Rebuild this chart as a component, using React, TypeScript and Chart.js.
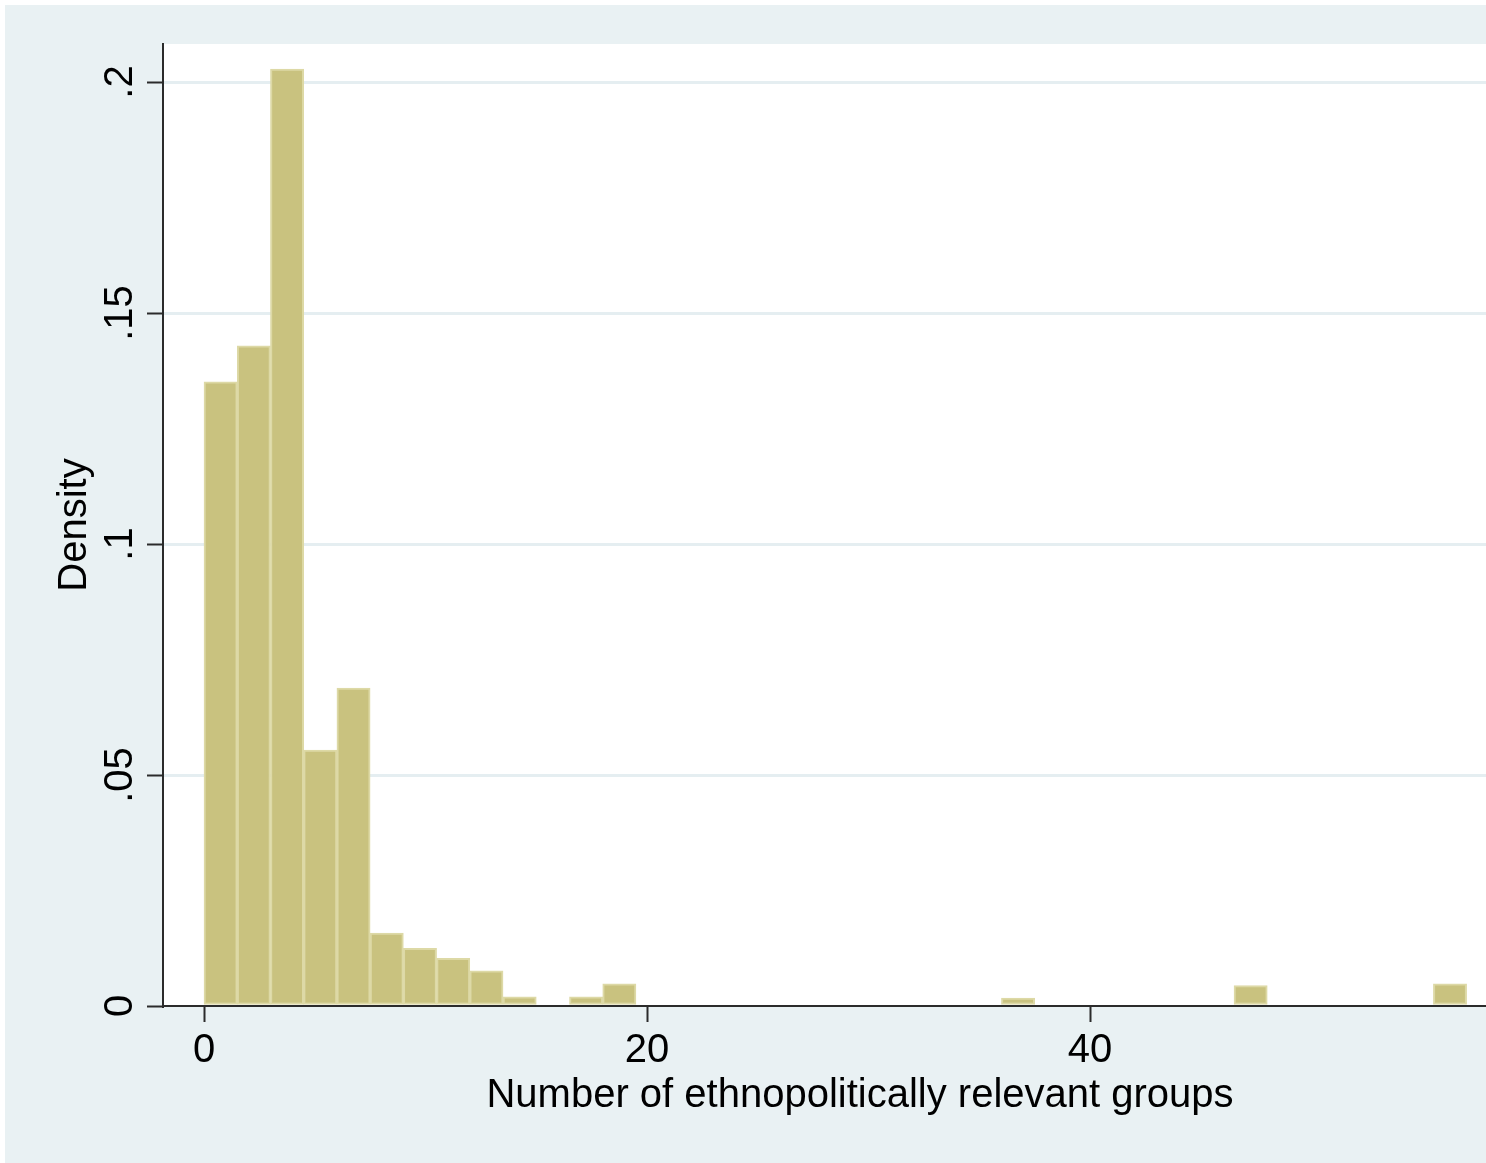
import React, { useEffect, useRef } from "react";
import { Chart, registerables } from "chart.js";

Chart.register(...registerables);

// Histogram bins: start, width, densities (38 bins of width 1.5)
const binStart = 0;
const binWidth = 1.5;
const densities = [
  0.1351, 0.1429, 0.2028, 0.0554, 0.0688, 0.0158, 0.0125, 0.0103, 0.0076, 0.002,
  0, 0.002, 0.0048, 0, 0, 0, 0, 0, 0, 0,
  0, 0, 0, 0, 0.0017, 0, 0, 0, 0, 0,
  0, 0.0044, 0, 0, 0, 0, 0, 0.0048,
];

const xTicks = [0, 20, 40];
const xTickLabels = ["0", "20", "40"];
const yTicks = [0, 0.05, 0.1, 0.15, 0.2];
const yTickLabels = ["0", ".05", ".1", ".15", ".2"];

const xTitle = "Number of ethnopolitically relevant groups";
const yTitle = "Density";

const FONT = '40px "Liberation Sans", Arial, Helvetica, sans-serif';

export default function App() {
  const canvasRef = useRef<HTMLCanvasElement | null>(null);

  useEffect(() => {
    const canvas = canvasRef.current;
    if (!canvas) return;

    const points = densities.map((d, i) => ({
      x: binStart + (i + 0.5) * binWidth,
      y: d,
    }));

    const bgPlugin = {
      id: "bgPlugin",
      beforeDraw(chart: any) {
        const { ctx, width, height, chartArea } = chart;
        ctx.save();
        ctx.fillStyle = "#ffffff";
        ctx.fillRect(0, 0, width, height);
        ctx.fillStyle = "rgb(233,241,243)";
        ctx.fillRect(5, 5, width - 5, height - 5);
        ctx.fillStyle = "#ffffff";
        ctx.fillRect(
          chartArea.left,
          chartArea.top,
          chartArea.right - chartArea.left,
          chartArea.bottom - chartArea.top
        );
        ctx.restore();
      },
    };

    const textPlugin = {
      id: "textPlugin",
      afterDraw(chart: any) {
        const { ctx, chartArea } = chart;
        const xs = chart.scales.x;
        const ys = chart.scales.y;
        ctx.save();
        ctx.font = FONT;
        ctx.fillStyle = "#000000";
        ctx.textBaseline = "alphabetic";
        ctx.textAlign = "center";
        // y tick labels (rotated)
        yTicks.forEach((v, i) => {
          const y = ys.getPixelForValue(v);
          ctx.save();
          ctx.translate(132, y);
          ctx.rotate(-Math.PI / 2);
          ctx.fillText(yTickLabels[i], 0, 0);
          ctx.restore();
        });
        // x tick labels
        xTicks.forEach((v, i) => {
          const x = xs.getPixelForValue(v);
          ctx.fillText(xTickLabels[i], x, 1062);
        });
        // x title
        ctx.fillText(xTitle, (chartArea.left + chartArea.right) / 2, 1107);
        // y title
        ctx.save();
        ctx.translate(86, (chartArea.top + chartArea.bottom) / 2);
        ctx.rotate(-Math.PI / 2);
        ctx.fillText(yTitle, 0, 0);
        ctx.restore();
        ctx.restore();
      },
    };

    const axisColor = "#2b2b2b";

    const chart = new Chart(canvas, {
      type: "bar",
      data: {
        datasets: [
          {
            data: points as any,
            backgroundColor: "rgb(201,194,127)",
            borderColor: "rgb(221,217,166)",
            borderWidth: 2,
            borderSkipped: false,
            barPercentage: 1,
            categoryPercentage: 1,
          } as any,
        ],
      },
      options: {
        responsive: false,
        animation: false,
        events: [],
        layout: { padding: { top: 44, right: 3, left: 0, bottom: 0 } },
        plugins: {
          legend: { display: false },
          tooltip: { enabled: false },
          title: { display: false },
        },
        scales: {
          x: {
            type: "linear",
            position: "bottom",
            offset: false,
            min: -1.851,
            max: 61.08,
            afterFit: (s: any) => {
              s.height = 157;
            },
            afterBuildTicks: (s: any) => {
              s.ticks = xTicks.map((v) => ({ value: v }));
            },
            grid: {
              offset: false,
              drawOnChartArea: false,
              drawTicks: true,
              tickLength: 16,
              tickColor: axisColor,
              tickWidth: 2,
            },
            border: { display: true, color: axisColor, width: 2 },
            ticks: { display: false },
          },
          y: {
            type: "linear",
            position: "left",
            min: 0,
            max: 0.20823,
            afterFit: (s: any) => {
              s.width = 163;
            },
            afterBuildTicks: (s: any) => {
              s.ticks = yTicks.map((v) => ({ value: v }));
            },
            grid: {
              color: (ctx: any) =>
                ctx.tick && ctx.tick.value === 0 ? "rgba(0,0,0,0)" : "rgb(229,238,241)",
              lineWidth: 3,
              drawTicks: true,
              tickLength: 16,
              tickColor: axisColor,
              tickWidth: 2,
            },
            border: { display: true, color: axisColor, width: 2 },
            ticks: { display: false },
          },
        },
      } as any,
      plugins: [bgPlugin, textPlugin],
    });

    return () => {
      chart.destroy();
    };
  }, []);

  return (
    <div
      style={{
        position: "fixed",
        left: 0,
        top: 0,
        width: 1486,
        height: 1163,
        overflow: "hidden",
        background: "#ffffff",
      }}
    >
      <canvas
        ref={canvasRef}
        width={1560}
        height={1163}
        style={{ display: "block", width: 1560, height: 1163 }}
      />
    </div>
  );
}
